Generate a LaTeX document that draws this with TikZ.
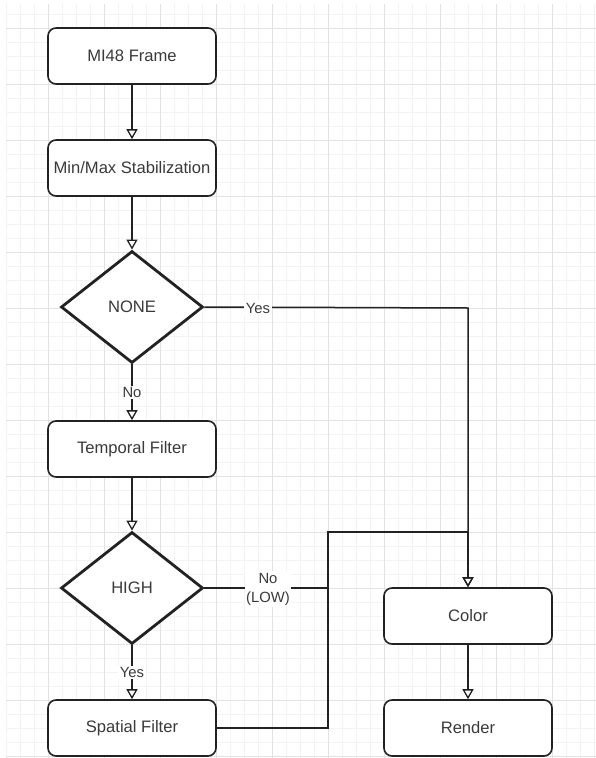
\documentclass[tikz,border=0pt]{standalone}
\usepackage{fontspec}
\setmainfont{Liberation Sans}
\usetikzlibrary{shapes.geometric,arrows.meta}
\definecolor{txt}{HTML}{3A3A3A}
\definecolor{edge}{HTML}{222222}
\definecolor{gmajor}{HTML}{E2E2E2}
\definecolor{gminor}{HTML}{F3F3F3}
\tikzset{
  procbox/.style={draw=edge, line width=1.6pt, rounded corners=8pt, fill=white,
    minimum width=168pt, minimum height=56pt, inner sep=0pt, text=txt,
    font=\fontsize{16.6}{19}\selectfont},
  decision/.style={diamond, draw=edge, line width=2.8pt, fill=white, aspect=1.27,
    minimum width=142pt, minimum height=112pt, inner sep=0pt, text=txt,
    font=\fontsize{16.6}{19}\selectfont},
  conn/.style={draw=edge, line width=1.5pt},
  arr/.style={conn, -{Triangle[open,length=10pt,width=11pt,line width=1.3pt]}},
  elabel/.style={fill=white, inner sep=1.5pt, text=txt, align=center,
    font=\fontsize{14.8}{19}\selectfont}
}
\begin{document}
\begin{tikzpicture}[x=1pt,y=-1pt]
\useasboundingbox (0,0) rectangle (596,758);
\fill[white] (0,0) rectangle (596,758);
% grid
\begin{scope}
\clip (6,4) rectangle (596,758);
\foreach \i in {0,...,43} {
  \draw[gminor, line width=0.7pt] ({6+14*\i},0) -- ({6+14*\i},758);
}
\foreach \j in {0,...,54} {
  \draw[gminor, line width=0.7pt] (0,{14*\j}) -- (596,{14*\j});
}
\foreach \i in {0,...,10} {
  \draw[gmajor, line width=0.9pt] ({48+56*\i-56},0) -- ({48+56*\i-56},758);
}
\foreach \j in {0,...,13} {
  \draw[gmajor, line width=0.9pt] (0,{28+56*\j}) -- (596,{28+56*\j});
}
\end{scope}

% nodes
\node[procbox] (frame) at (132,56) {MI48 Frame};
\node[procbox] (stab) at (132,168) {Min/Max Stabilization};
\node[decision] (none) at (132,307) {NONE};
\node[procbox] (temp) at (132,449) {Temporal Filter};
\node[decision] (high) at (132,588) {HIGH};
\node[procbox] (spat) at (132,728) {Spatial Filter};
\node[procbox] (color) at (468,616) {Color};
\node[procbox] (render) at (468,728) {Render};

\coordinate (yescorner) at (468,308);
\coordinate (jlow) at (328,588);
\coordinate (sp1) at (328,728);
\coordinate (sp2) at (328,532);
\coordinate (sp3) at (468,532);

% connectors
\draw[arr] (frame.south) -- (stab.north);
\draw[arr] (stab.south) -- (none.north);
\draw[arr] (none.south) -- node[elabel, pos=0.5] {No} (temp.north);
\draw[arr] (none.east) -- (yescorner) -- (color.north);
\node[elabel] (yeslbl) at (258,308) {Yes};
\draw[arr] (temp.south) -- (high.north);
\draw[arr] (high.south) -- node[elabel, pos=0.5] {Yes} (spat.north);
\draw[conn] (high.east) -- (jlow);
\node[elabel] (lowlbl) at (268,589) {No\\(LOW)};
\draw[arr] (spat.east) -- (sp1) -- (sp2) -- (sp3) -- (color.north);
\draw[arr] (color.south) -- (render.north);
\end{tikzpicture}
\end{document}
